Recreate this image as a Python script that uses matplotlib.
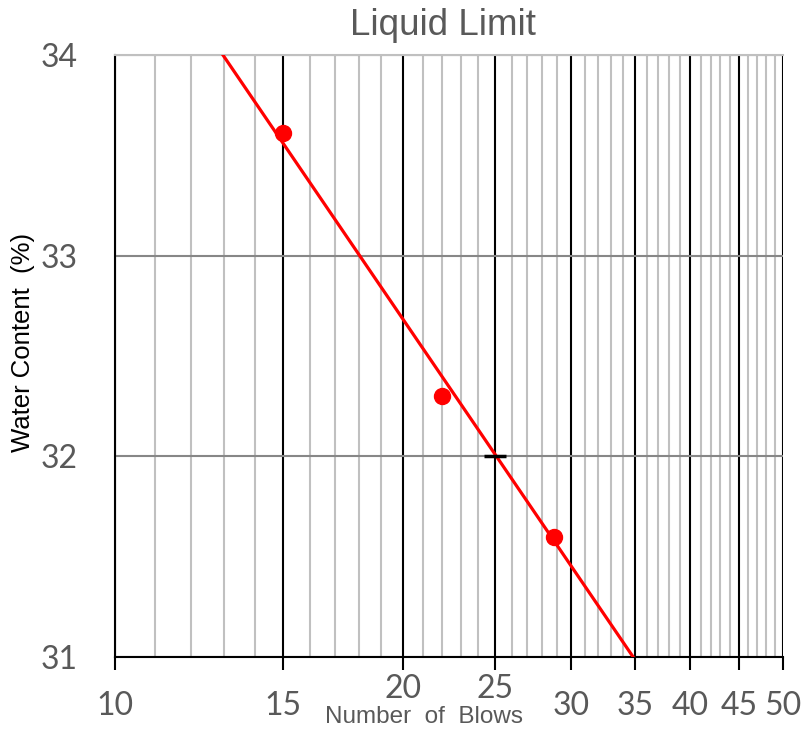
import numpy as np
import matplotlib.pyplot as plt
from matplotlib.ticker import FixedLocator, NullFormatter

# Data
blows = [15, 22, 28.8]
water = [33.61, 32.30, 31.60]

# fitted flow line (end points as drawn)
flow_x = [12.97, 34.85]
flow_y = [34.0, 31.0]

# liquid limit marker at 25 blows
ll_x = [25]
ll_y = [32.0]

major_x = [10, 15, 20, 25, 30, 35, 40, 45, 50]
major_labels = ["10", "15", "20", "25", "30", "35", "40", "45", "50"]
raised = ["20", "25"]
minor_x = [n for n in range(11, 50) if n % 5 != 0]
y_ticks = [31, 32, 33, 34]


def main():
    fig = plt.figure(figsize=(8.03, 7.36), dpi=100)
    ax = fig.add_axes([0.1432, 0.1073, 0.8319, 0.8180])

    ax.set_xscale("log")
    ax.set_xlim(10, 50)
    ax.set_ylim(31, 34)

    # grid
    ax.xaxis.set_major_locator(FixedLocator(major_x))
    ax.xaxis.set_minor_locator(FixedLocator(minor_x))
    ax.xaxis.set_major_formatter(NullFormatter())
    ax.xaxis.set_minor_formatter(NullFormatter())
    ax.grid(True, which="minor", axis="x", color="#c0c0c0", lw=1.5, zorder=0)
    ax.grid(True, which="major", axis="x", color="black", lw=1.5, zorder=1)
    ax.set_yticks(y_ticks)
    ax.grid(True, which="major", axis="y", color="#878787", lw=1.5, zorder=1)
    ax.set_axisbelow(True)

    ax.tick_params(axis="x", which="major", direction="out", length=9.5, width=1.5, color="black")
    ax.tick_params(axis="x", which="minor", length=0)
    ax.tick_params(axis="y", length=0, pad=27, labelsize=23, labelcolor="#595959")
    for lab in ax.get_yticklabels():
        lab.set_fontfamily("Lato")

    for s in ["left", "bottom"]:
        ax.spines[s].set_color("black")
        ax.spines[s].set_linewidth(1.5)
    ax.spines["top"].set_color("#c0c0c0")
    ax.spines["top"].set_linewidth(1.5)
    ax.spines["right"].set_visible(False)

    # x tick labels placed by hand (20 and 25 sit higher)
    tr = ax.get_xaxis_transform()
    for v, lab in zip(major_x, major_labels):
        yy = -0.053 if lab in raised else -0.081
        ax.text(v, yy, lab, transform=tr, ha="center", va="center",
                fontsize=23, color="#595959", family="Lato")

    # data
    ax.plot(flow_x, flow_y, color="red", lw=2.3, zorder=3)
    ax.plot(blows, water, "o", color="red", markersize=11.5, zorder=4)
    ax.plot(ll_x, ll_y, "_", color="black", markersize=16, mew=2.5, zorder=5)

    fig.text(0.552, 0.9524, "Liquid Limit", ha="center", va="baseline",
             fontsize=26.5, color="#595959", family="Liberation Sans")
    fig.text(0.528, 0.0177, "Number  of  Blows", ha="center", va="baseline",
             fontsize=17.5, color="#595959", family="Liberation Sans")
    fig.text(0.0286, 0.5346, "Water Content  (%)", ha="center", va="center",
             rotation=90, fontsize=18.5, color="black", family="Liberation Sans")

    fig.savefig("out.png", dpi=100)


if __name__ == "__main__":
    main()
